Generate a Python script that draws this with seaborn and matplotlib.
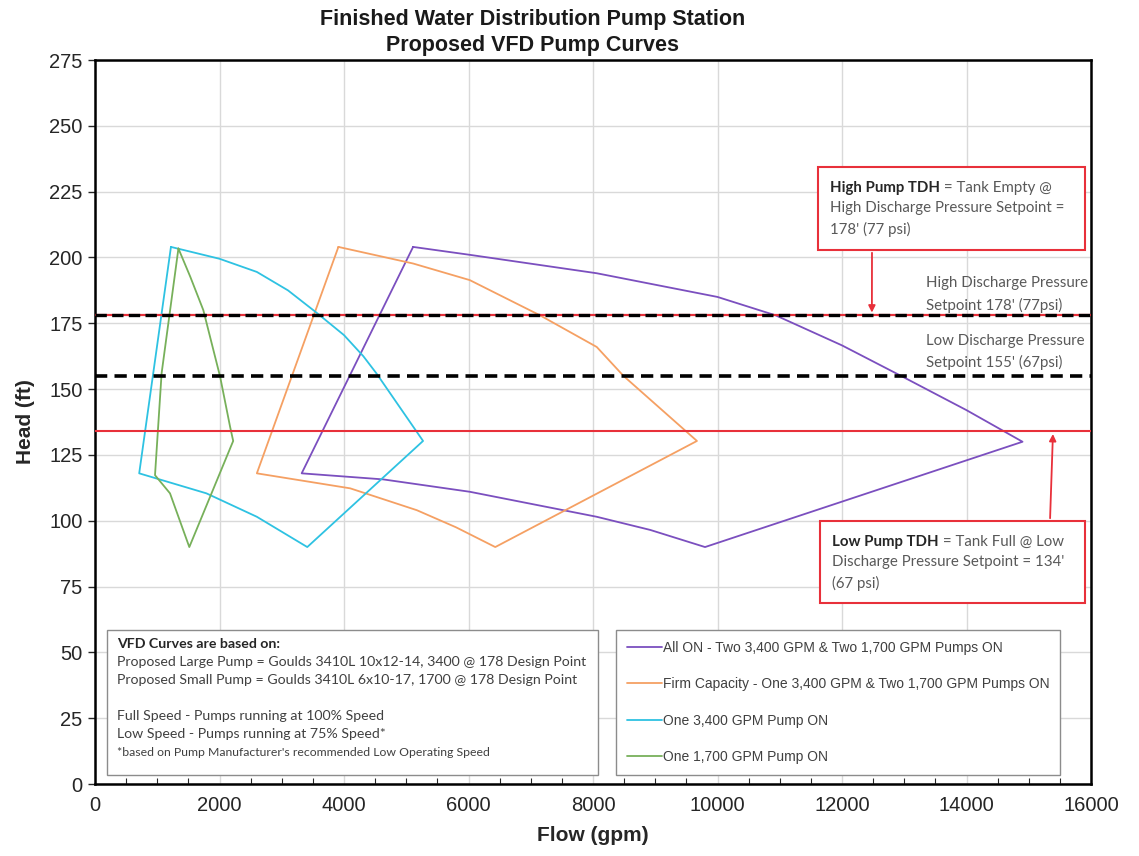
import matplotlib
matplotlib.use("Agg")
import matplotlib.pyplot as plt
from matplotlib.patches import Rectangle
from matplotlib.text import Annotation
from matplotlib.ticker import MultipleLocator
import numpy as np
import pandas as pd
import seaborn as sns

# pump curve polygons: full speed curve, run-out line, low speed curve, min-flow line
all_on_flow = [5110, 6020, 8060, 10000, 10935, 12000, 12950, 14000, 14900,
               9800, 8920, 8060, 6020, 4630, 3320, 5110]
all_on_head = [204, 201, 194, 185, 178, 166.6, 155, 142, 130,
               90, 96.5, 101.5, 111, 115.7, 118, 204]

firm_flow = [3910, 5110, 6020, 7150, 8060, 8490, 9670,
             6430, 5800, 5170, 4100, 2600, 3910]
firm_head = [204, 197.7, 191.4, 178, 166, 155, 130.3,
             90, 97.5, 104, 112.3, 118, 204]

large_flow = [1220, 2000, 2600, 3100, 3560, 4000, 4310, 4520, 5270,
              3410, 2600, 1790, 710, 1220]
large_head = [204, 199.5, 194.5, 187.5, 179, 170.5, 162.5, 156, 130.3,
              90, 101.5, 110.4, 118, 204]

small_flow = [1340, 1530, 1740, 2010, 2170, 2220,
              1515, 1205, 964, 1070, 1340]
small_head = [203.4, 192.7, 180, 154.7, 135.7, 130.3,
              90, 110.4, 117.3, 156, 203.4]

curve_names = ["All ON - Two 3,400 GPM & Two 1,700 GPM Pumps ON",
               "Firm Capacity - One 3,400 GPM & Two 1,700 GPM Pumps ON",
               "One 3,400 GPM Pump ON",
               "One 1,700 GPM Pump ON"]
curve_colors = ["#7B4FBF", "#F5A063", "#2EC2E2", "#77B05A"]

high_setpoint = 178
low_setpoint = 155
low_tdh = 134

W, H = 1139, 856


def fx(px):
    return px / W


def fy(py):
    return 1 - py / H


sns.set_theme(style="white")
plt.rcParams["font.family"] = ["Liberation Sans", "DejaVu Sans"]
note_font = ["Lato", "DejaVu Sans"]
RED = "#E8303A"

fig = plt.figure(figsize=(W / 100, H / 100), dpi=100)
ax = fig.add_axes([fx(95), fy(784), fx(1091) - fx(95), fy(60) - fy(784)])

curves = [(all_on_flow, all_on_head), (firm_flow, firm_head),
          (large_flow, large_head), (small_flow, small_head)]
for (flow, head), name, col in zip(curves, curve_names, curve_colors):
    df = pd.DataFrame({"flow": flow, "head": head})
    sns.lineplot(data=df, x="flow", y="head", sort=False, estimator=None,
                 color=col, lw=1.3, label=name, ax=ax, zorder=3)

# setpoint lines
ax.axhline(high_setpoint, color=RED, lw=1.6, zorder=4)
ax.axhline(high_setpoint, color="black", lw=2.4, dashes=(3.4, 1.6), zorder=4)
ax.axhline(low_setpoint, color="black", lw=2.6, dashes=(3.4, 2.0), zorder=4)
ax.axhline(low_tdh, color=RED, lw=1.5, zorder=4)

ax.set_xlim(0, 16000)
ax.set_ylim(0, 275)
ax.xaxis.set_major_locator(MultipleLocator(2000))
ax.xaxis.set_minor_locator(MultipleLocator(500))
ax.yaxis.set_major_locator(MultipleLocator(25))
ax.grid(True, which="major", color="#D9D9D9", lw=1.0)
ax.set_axisbelow(True)
for s in ax.spines.values():
    s.set_color("black")
    s.set_linewidth(1.8)
ax.tick_params(axis="x", which="major", direction="inout", length=9, width=1,
               labelsize=14.5, pad=4, colors="black", labelcolor="#262626")
ax.tick_params(axis="x", which="minor", direction="in", length=4, width=0.8,
               bottom=True)
ax.tick_params(axis="y", which="major", direction="out", length=5, width=1,
               labelsize=14.5, pad=4, left=True, labelcolor="#262626")

ax.set_xlabel("Flow (gpm)", fontsize=15, weight="bold", labelpad=8)
ax.set_ylabel("Head (ft)", fontsize=15, weight="bold", labelpad=10)

fig.text(fx(533), fy(20), "Finished Water Distribution Pump Station",
         ha="center", va="center", fontsize=15.5, weight="bold", color="#1a1a1a")
fig.text(fx(533), fy(45), "Proposed VFD Pump Curves",
         ha="center", va="center", fontsize=15.5, weight="bold", color="#1a1a1a")

# legend
ax.legend(loc="upper left", bbox_to_anchor=(fx(616), fy(630)),
          bbox_transform=fig.transFigure, borderaxespad=0, fontsize=10,
          frameon=True, fancybox=False, edgecolor="#8C8C8C", framealpha=1,
          handlelength=2.5, handletextpad=0.05, labelspacing=1.6,
          borderpad=0.8, labelcolor="#404040")
ax.get_legend().get_frame().set_linewidth(1.0)

# info box
fig.add_artist(Rectangle((fx(107), fy(775)), fx(598) - fx(107), fy(630) - fy(775),
                         transform=fig.transFigure, fill=True, facecolor="white",
                         edgecolor="#8C8C8C", lw=1.0, zorder=5))
info_lines = [("VFD Curves are based on:", 644, 10.2, "bold"),
              ("Proposed Large Pump = Goulds 3410L 10x12-14, 3400 @ 178 Design Point", 662, 10.2, "normal"),
              ("Proposed Small Pump = Goulds 3410L 6x10-17, 1700 @ 178 Design Point", 680, 10.2, "normal"),
              ("Full Speed - Pumps running at 100% Speed", 716, 10.2, "normal"),
              ("Low Speed - Pumps running at 75% Speed*", 734, 10.2, "normal"),
              ("*based on Pump Manufacturer's recommended Low Operating Speed", 752, 8.8, "normal")]
for txt, py, fs, wt in info_lines:
    fig.text(fx(117), fy(py), txt, ha="left", va="center", fontsize=fs,
             weight=wt, family=note_font,
             color="#262626" if wt == "bold" else "#404040", zorder=6)

# setpoint labels
for txt, py in [("High Discharge Pressure", 283), ("Setpoint 178' (77psi)", 305),
                ("Low Discharge Pressure", 341), ("Setpoint 155' (67psi)", 362)]:
    fig.text(fx(926), fy(py), txt, ha="left", va="center", fontsize=10.8,
             family=note_font, color="#595959")


def callout(x0, x1, y0, y1, bold, rest, lines):
    fig.add_artist(Rectangle((fx(x0), fy(y1)), fx(x1) - fx(x0), fy(y0) - fy(y1),
                             transform=fig.transFigure, facecolor="white",
                             edgecolor=RED, lw=1.5, zorder=5))
    t = fig.text(fx(x0 + 12), fy(lines[0]), bold, ha="left", va="center",
                 fontsize=10.8, weight="bold", family=note_font, color="#262626",
                 zorder=6)
    ann = Annotation(rest, xy=(1, 0.5), xycoords=t, ha="left", va="center",
                     fontsize=10.8, family=note_font, color="#595959",
                     annotation_clip=False)
    ann.set_zorder(6)
    fig.add_artist(ann)
    for txt, py in zip(lines[1:], [lines[0] + 20, lines[0] + 41]):
        fig.text(fx(x0 + 12), fy(py), txt, ha="left", va="center", fontsize=10.8,
                 family=note_font, color="#595959", zorder=6)


callout(818, 1085, 167, 250, "High Pump TDH", " = Tank Empty @",
        [188, "High Discharge Pressure Setpoint =", "178' (77 psi)"])
callout(820, 1085, 521, 603, "Low Pump TDH", " = Tank Full @ Low",
        [542, "Discharge Pressure Setpoint = 134'", "(67 psi)"])

arrow = dict(arrowstyle="-|>", color=RED, lw=1.3, mutation_scale=10)
ax.annotate("", xy=(12480, high_setpoint), xytext=(fx(872), fy(250)),
            textcoords="figure fraction", arrowprops=arrow, zorder=6)
ax.annotate("", xy=(15390, low_tdh), xytext=(fx(1050), fy(521)),
            textcoords="figure fraction", arrowprops=arrow, zorder=6)

fig.savefig("out.png", dpi=100, facecolor="white")
